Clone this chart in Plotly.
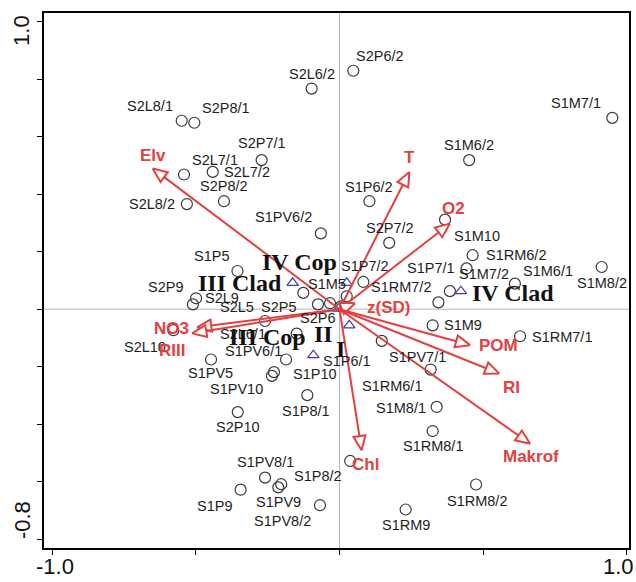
import plotly.graph_objects as go
import math

# ---- sample scores (axis 1, axis 2) ----
site_names = ["S2P6/2", "S2L6/2", "S2L8/1", "S2P8/1", "S1M7/1", "S2P7/1", "S2L7/1", "S2L7/2",
              "S1M6/2", "S2P8/2", "S2L8/2", "S1P6/2", "S1M10", "S2P7/2", "S1PV6/2", "S1RM6/2",
              "S1P7/1", "S1M6/1", "S1M8/2", "S1M7/2", "S1P5", "S1P7/2", "S1RM7/2", "S2P9",
              "S2L9", "S1M5", "S2L5", "S2P5", "S2P6", "S2L10", "S2L6/1", "S1P6/1",
              "S1PV6/1", "S1PV5", "S1P10", "S1PV10", "S2P10", "S1P8/1", "S1PV8/1", "S1P8/2",
              "S1PV9", "S1P9", "S1PV8/2", "S1RM8/2", "S1RM9", "S1RM8/1", "S1M8/1", "S1RM6/1",
              "S1PV7/1", "S1RM7/1", "S1M9", "", ""]
site_x = [0.048, -0.097, -0.549, -0.505, 0.949, -0.271, -0.541, -0.441,
          0.451, -0.402, -0.531, 0.104, 0.367, 0.173, -0.065, 0.463,
          0.442, 0.610, 0.912, 0.384, -0.355, 0.083, 0.025, -0.499,
          -0.510, -0.126, -0.075, -0.033, 0.005, -0.578, -0.259, -0.149,
          -0.186, -0.447, -0.228, -0.235, -0.354, -0.112, -0.259, -0.203,
          -0.213, -0.344, -0.068, 0.475, 0.230, 0.324, 0.338, 0.317,
          0.147, 0.628, 0.324, 0.344, 0.037]
site_y = [0.830, 0.768, 0.656, 0.649, 0.666, 0.519, 0.469, 0.478,
          0.519, 0.376, 0.366, 0.376, 0.312, 0.231, 0.264, 0.188,
          0.142, 0.089, 0.147, 0.063, 0.133, 0.095, 0.045, 0.038,
          0.017, 0.057, 0.017, 0.021, 0.010, -0.073, -0.041, -0.085,
          -0.175, -0.175, -0.219, -0.232, -0.358, -0.299, -0.586, -0.609,
          -0.620, -0.628, -0.682, -0.610, -0.697, -0.424, -0.340, -0.210,
          -0.110, -0.094, -0.056, 0.024, -0.528]

# ---- class centroids ----
class_names = ["III Clad", "IV Cop", "I", "II", "III Cop", "IV Clad"]
class_x = [-0.163, 0.025, -0.004, 0.034, -0.091, 0.422]
class_y = [0.092, 0.092, 0.002, -0.056, -0.160, 0.063]

# ---- environmental variables (arrows) ----
env_names = ["Elv", "T", "O2", "NO3", "RIII", "z(SD)", "POM", "RI", "Makrof", "Chl"]
env_x = [-0.650, 0.243, 0.384, -0.496, -0.513, 0.054, 0.454, 0.556, 0.663, 0.077]
env_y = [0.490, 0.478, 0.298, -0.063, -0.084, 0.021, -0.125, -0.224, -0.468, -0.491]

# ---- axis tick labels ----
x_tick_vals = [-1.0, -0.5, 0.0, 0.5, 1.0]
x_tick_text = ["-1.0", "1.0"]
x_tick_text_at = [-1.0, 1.0]
y_tick_vals = [1.0, 0.8, 0.6, 0.4, 0.2, 0.0, -0.2, -0.4, -0.6, -0.8]
y_tick_text = ["1.0", "-0.8"]
y_tick_text_at = [1.0, -0.8]

# ---- label placement (pixel offsets from the mark) ----
site_lab_off = [(27, -15), (0, -15), (-32, -15), (32, -15), (-36, -15), (0, -17), (31, -14), (34, 0),
                (0, -15), (0, -15), (-35, 0), (0, -14), (32, 16), (1, -15), (-37, -16), (43, 0),
                (-36, 0), (33, -13), (0, 16), (34, -17), (-26, -15), (2, -16), (54, -9), (-31, -11),
                (29, -6), (24, -9), (-81, 3), (-52, 4), (-23, 12), (-28, 17), (-22, 13), (50, 27),
                (-33, -9), (-1, 13), (41, 2), (-35, 13), (0, 15), (-1, 16), (0, -16), (37, -8),
                (0, 15), (-26, 16), (-37, 16), (1, 16), (0, 15), (0, 15), (-36, 1), (-39, 16),
                (36, 16), (42, 1), (30, 0), (0, 0), (0, 0)]
class_lab_off = [(-53, 0), (-47, -21), (2, 40), (-26, 9), (-46, -18), (52, 2)]
env_lab_off = [(0, -13), (0, -14), (4, -15), (-25, 1), (-20, 17), (33, 4), (28, 0), (12, 14), (1, 13), (4, 14)]
x_tick_lab_shift = [3, -8]
y_tick_lab_shift = [-9, 19]

RED = "#e2413f"
XR = [-1.028, 1.007]
YR = [-0.831, 1.031]

fig = go.Figure()

# zero lines
fig.add_trace(go.Scatter(x=[XR[0], XR[1]], y=[0, 0], mode="lines",
                         line=dict(color="#b8b8b8", width=1), hoverinfo="skip", showlegend=False))
fig.add_trace(go.Scatter(x=[0, 0], y=[YR[0], YR[1]], mode="lines",
                         line=dict(color="#b8b8b8", width=1), hoverinfo="skip", showlegend=False))

# sites
fig.add_trace(go.Scatter(x=site_x, y=site_y, mode="markers",
                         marker=dict(symbol="circle-open", size=11, color="#3a3a3a", line=dict(width=1.2)),
                         showlegend=False))

# centroids
fig.add_trace(go.Scatter(x=class_x, y=class_y, mode="markers",
                         marker=dict(symbol="triangle-up-open", size=10, color="#3f3fa0", line=dict(width=1.2)),
                         showlegend=False))

# arrows with open heads
HL, HW = 0.05, 0.021
for ex, ey in zip(env_x, env_y):
    L = math.hypot(ex, ey)
    ux, uy = ex / L, ey / L
    bx, by = ex - HL * ux, ey - HL * uy
    px, py = -uy, ux
    fig.add_trace(go.Scatter(x=[0, bx], y=[0, by], mode="lines",
                             line=dict(color=RED, width=2), hoverinfo="skip", showlegend=False))
    fig.add_trace(go.Scatter(x=[ex, bx + HW * px, bx - HW * px, ex],
                             y=[ey, by + HW * py, by - HW * py, ey],
                             mode="lines", fill="toself", fillcolor="white",
                             line=dict(color=RED, width=2), hoverinfo="skip", showlegend=False))

ann = []
for n, x, y, (dx, dy) in zip(site_names, site_x, site_y, site_lab_off):
    if n:
        ann.append(dict(x=x, y=y, text=n, showarrow=False, xshift=dx, yshift=-dy,
                        font=dict(family="Liberation Sans", size=14.5, color="#1e1e1e")))
for n, x, y, (dx, dy) in zip(class_names, class_x, class_y, class_lab_off):
    ann.append(dict(x=x, y=y, text="<b>%s</b>" % n, showarrow=False, xshift=dx, yshift=-dy,
                    font=dict(family="Liberation Serif", size=24, color="#111111")))
for n, x, y, (dx, dy) in zip(env_names, env_x, env_y, env_lab_off):
    ann.append(dict(x=x, y=y, text="<b>%s</b>" % n, showarrow=False, xshift=dx, yshift=-dy,
                    font=dict(family="Liberation Sans", size=17, color=RED)))
TICKFONT = dict(family="Liberation Sans", size=22, color="#111")
for t, v, s in zip(x_tick_text, x_tick_text_at, x_tick_lab_shift):
    ann.append(dict(x=v, xref="x", y=0, yref="paper", text=t, showarrow=False,
                    xshift=s, yshift=-18, yanchor="middle", font=TICKFONT))
for t, v, s in zip(y_tick_text, y_tick_text_at, y_tick_lab_shift):
    ann.append(dict(x=0, xref="paper", y=v, yref="y", text=t, showarrow=False, textangle=-90,
                    xshift=-22, yshift=s, xanchor="center", font=TICKFONT))

fig.update_layout(
    width=636, height=582,
    margin=dict(l=44, r=7, t=13, b=34, autoexpand=False),
    paper_bgcolor="white", plot_bgcolor="white",
    annotations=ann,
    showlegend=False,
    xaxis=dict(range=XR, showgrid=False, zeroline=False, automargin=False,
               tickvals=x_tick_vals, showticklabels=False,
               ticks="outside", ticklen=5, tickcolor="black", tickwidth=1.2,
               showline=True, linecolor="black", linewidth=1.6, mirror=True),
    yaxis=dict(range=YR, showgrid=False, zeroline=False, automargin=False,
               tickvals=y_tick_vals, showticklabels=False,
               ticks="outside", ticklen=5, tickcolor="black", tickwidth=1.2,
               showline=True, linecolor="black", linewidth=1.6, mirror=True),
)

fig.write_html("out.html", config={"displayModeBar": False},
               post_script="document.body.style.margin='0';document.body.style.overflow='hidden';"
                           "document.documentElement.style.overflow='hidden';")
